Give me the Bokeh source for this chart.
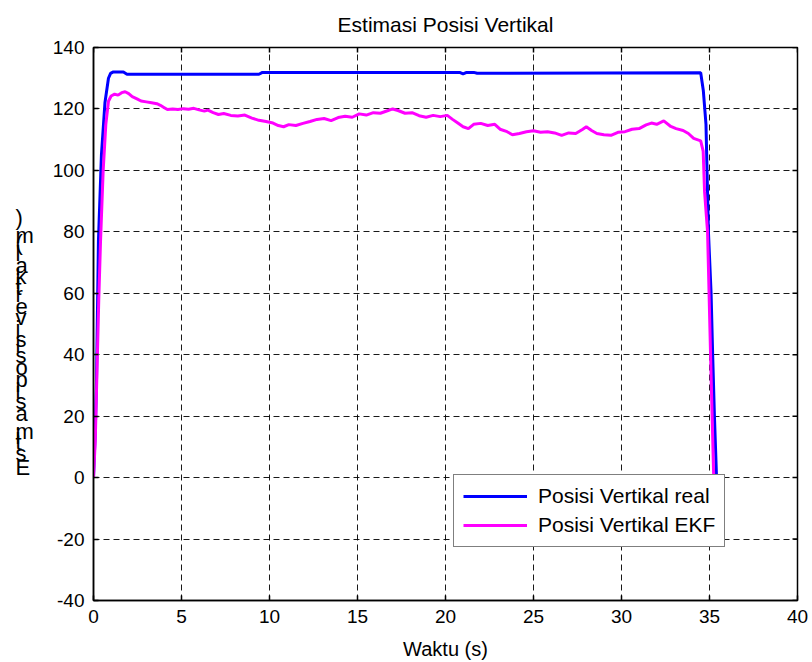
from bokeh.plotting import figure
from bokeh.layouts import row
from bokeh.models import Range1d, FixedTicker, Legend, LegendItem
from bokeh.core.properties import value
from bokeh.embed import file_html
from bokeh.resources import INLINE

# ---- data ----
t_real = [0, 0.1, 0.17, 0.28, 0.45, 0.65, 0.85, 0.97, 1.1, 1.7, 1.9, 9.4, 9.6,
          20.8, 21.0, 21.2, 21.6, 21.8, 34.5, 34.65, 34.8, 34.94, 35.09, 35.18, 35.28, 35.4]
y_real = [0, 15, 31, 77, 105, 122, 130, 131.6, 132.0, 132.0, 131.3, 131.3, 131.9,
          131.9, 131.4, 131.9, 131.9, 131.6, 131.8, 125.9, 115, 80, 60, 40, 20, 0]

t_ekf = [0.0, 0.1, 0.2, 0.3, 0.4, 0.55, 0.7, 0.85, 1.0, 1.2, 1.4, 1.6, 1.8, 2.0, 2.2, 2.5,
         2.7, 3.0, 3.3, 3.6, 3.8, 4.0, 4.2, 4.5, 4.8, 5.1, 5.4, 5.7, 6.0, 6.3, 6.5, 6.8,
         7.1, 7.4, 7.8, 8.2, 8.6, 9.0, 9.4, 9.8, 10.2, 10.5, 10.8, 11.1, 11.5, 11.9, 12.3,
         12.7, 13.1, 13.5, 13.9, 14.3, 14.7, 15.1, 15.5, 15.9, 16.3, 16.7, 17.0, 17.3, 17.7,
         18.1, 18.5, 18.9, 19.3, 19.7, 20.1, 20.4, 20.7, 21.0, 21.3, 21.6, 22.0, 22.4, 22.8,
         23.1, 23.5, 23.8, 24.2, 24.6, 25.0, 25.4, 25.8, 26.2, 26.6, 27.0, 27.4, 27.8, 28.0,
         28.3, 28.6, 29.0, 29.4, 29.8, 30.2, 30.6, 31.0, 31.4, 31.7, 32.0, 32.4, 32.8, 33.1,
         33.5, 33.8, 34.1, 34.5, 34.64, 34.72, 34.89, 35.06, 35.24]
y_ekf = [0, 12, 35, 58, 77, 100, 115, 122.5, 124.2, 124.8, 124.5, 125.3, 125.6, 125.0, 124.0, 123.2,
         122.6, 122.3, 122.0, 121.7, 121.2, 120.5, 119.8, 120.0, 119.8, 120.1, 119.9, 120.2, 119.7, 119.3, 119.6, 118.8,
         118.2, 118.5, 117.9, 117.7, 118.0, 117.0, 116.3, 115.9, 115.4, 114.6, 114.2, 114.9, 114.6, 115.3, 115.9,
         116.6, 116.9, 116.2, 117.2, 117.6, 117.3, 118.4, 118.0, 118.8, 118.6, 119.4, 120.0, 119.5, 118.6,
         118.8, 117.8, 117.3, 117.9, 117.5, 117.9, 116.6, 115.4, 114.2, 113.6, 115.0, 115.3, 114.6, 115.0,
         113.4, 112.6, 111.6, 112.0, 112.6, 112.9, 112.4, 112.6, 112.2, 111.4, 112.2, 112.0, 113.4, 114.2,
         113.0, 112.0, 111.6, 111.4, 112.4, 112.6, 113.4, 113.6, 114.8, 115.4, 115.0, 116.1, 114.3, 113.6,
         113.0, 112.0, 110.4, 109.6, 106.3, 93, 80, 40, 0]

x_ticks = [0, 5, 10, 15, 20, 25, 30, 35, 40]
y_ticks = [-40, -20, 0, 20, 40, 60, 80, 100, 120, 140]

title_text = "Estimasi Posisi Vertikal"
x_label = "Waktu (s)"
y_label = "Estimasi posisi vertikal (m)"
labels = ["Posisi Vertikal real", "Posisi Vertikal EKF"]

FONT = "Liberation Sans"

# ---- layout ----
W, H = 812, 662
LW = 45                       # width of the strip that holds the y label
ML, MR, MT, MB = 93 - LW, 15, 46, 62
X0, X1, Y0, Y1 = 0, 40, -40, 140

p = figure(width=W - LW, height=H, output_backend="svg", toolbar_location=None,
           x_range=Range1d(X0, X1), y_range=Range1d(Y0, Y1),
           min_border_left=ML, min_border_right=MR, min_border_top=MT, min_border_bottom=MB)
p.background_fill_color = "white"
p.border_fill_color = "white"
p.outline_line_color = "black"
p.outline_line_width = 1.5

p.title.text = title_text
p.title.align = "center"
p.title.vertical_align = "middle"
p.title.text_font = FONT
p.title.text_font_size = "21px"
p.title.text_font_style = "normal"
p.title.text_color = "black"
p.title.standoff = 22

for ax in (p.xaxis[0], p.yaxis[0]):
    ax.axis_line_color = "black"
    ax.axis_line_width = 1.5
    ax.major_tick_in = 5
    ax.major_tick_out = 0
    ax.major_tick_line_color = "black"
    ax.major_tick_line_width = 1.5
    ax.minor_tick_line_color = None
    ax.major_label_text_font = FONT
    ax.major_label_text_color = "black"
    ax.major_label_text_font_size = "19px"
    ax.major_label_standoff = 9

p.xaxis.ticker = FixedTicker(ticks=x_ticks)
p.yaxis.ticker = FixedTicker(ticks=y_ticks)
p.yaxis.major_label_overrides = {t: str(t) for t in y_ticks}
p.xaxis.axis_label = x_label
p.xaxis.axis_label_text_font = FONT
p.xaxis.axis_label_text_font_size = "20px"
p.xaxis.axis_label_text_font_style = "normal"
p.xaxis.axis_label_text_color = "black"
p.xaxis.axis_label_standoff = 12

for g in (p.xgrid[0], p.ygrid[0]):
    g.grid_line_color = "black"
    g.grid_line_dash = "6 4"
    g.grid_line_width = 1
    g.grid_line_alpha = 0.9

# mirrored inward ticks on the top and right frame edges (box on)
frame_h = H - MT - MB
frame_w = (W - LW) - ML - MR
tick_dy = 5 * (Y1 - Y0) / frame_h
tick_dx = 5 * (X1 - X0) / frame_w
p.segment(x0=x_ticks, y0=[Y1] * len(x_ticks), x1=x_ticks, y1=[Y1 - tick_dy] * len(x_ticks),
          line_color="black", line_width=1.5)
p.segment(x0=[X1] * len(y_ticks), y0=y_ticks, x1=[X1 - tick_dx] * len(y_ticks), y1=y_ticks,
          line_color="black", line_width=1.5)

r1 = p.line(t_real, y_real, line_color="#0000FF", line_width=3)
r2 = p.line(t_ekf, y_ekf, line_color="#FF00FF", line_width=3)

legend = Legend(items=[LegendItem(label=labels[0], renderers=[r1]),
                       LegendItem(label=labels[1], renderers=[r2])],
                location=(360, 53), orientation="vertical")
legend.glyph_width = 64
legend.glyph_height = 20
legend.label_height = 20
legend.label_standoff = 11
legend.spacing = 5
legend.padding = 9
legend.margin = 0
legend.border_line_color = "black"
legend.border_line_width = 1.2
legend.background_fill_color = "white"
legend.background_fill_alpha = 1
legend.label_text_font = FONT
legend.label_text_font_size = "21px"
legend.label_text_color = "black"
p.add_layout(legend)

# ---- y label strip: upright glyphs stacked bottom-to-top (as in the reference) ----
adv = {"E": 667, "s": 500, "t": 278, "i": 222, "m": 833, "a": 556, " ": 278, "p": 556,
       "o": 556, "v": 500, "e": 556, "r": 333, "k": 500, "l": 222, "(": 333, ")": 333}
scale = 0.0218
base_py = 467   # pixel row of the first glyph's baseline
chars, cx, cy = [], [], []
cum = 0
for ch in y_label:
    if ch != " ":
        chars.append(ch)
        cx.append(15)
        cy.append(base_py - cum * scale)
    cum += adv[ch]

# same vertical frame as the main figure, so its range maps straight onto pixel rows
q = figure(width=LW, height=H, output_backend="svg", toolbar_location=None,
           x_range=Range1d(0, LW), y_range=Range1d(MT + frame_h, MT),
           x_axis_type=None, y_axis_type=None,
           min_border_left=0, min_border_right=0, min_border_top=MT, min_border_bottom=MB)
q.outline_line_color = None
q.grid.visible = False
q.background_fill_color = "white"
q.border_fill_color = "white"
q.text(x=cx, y=cy, text=chars, text_font=value(FONT), text_font_size=value("22px"),
       text_color="black", text_baseline="alphabetic", text_align="left")

layout = row(q, p, spacing=0)
open("out.html", "w").write(file_html(layout, INLINE))
